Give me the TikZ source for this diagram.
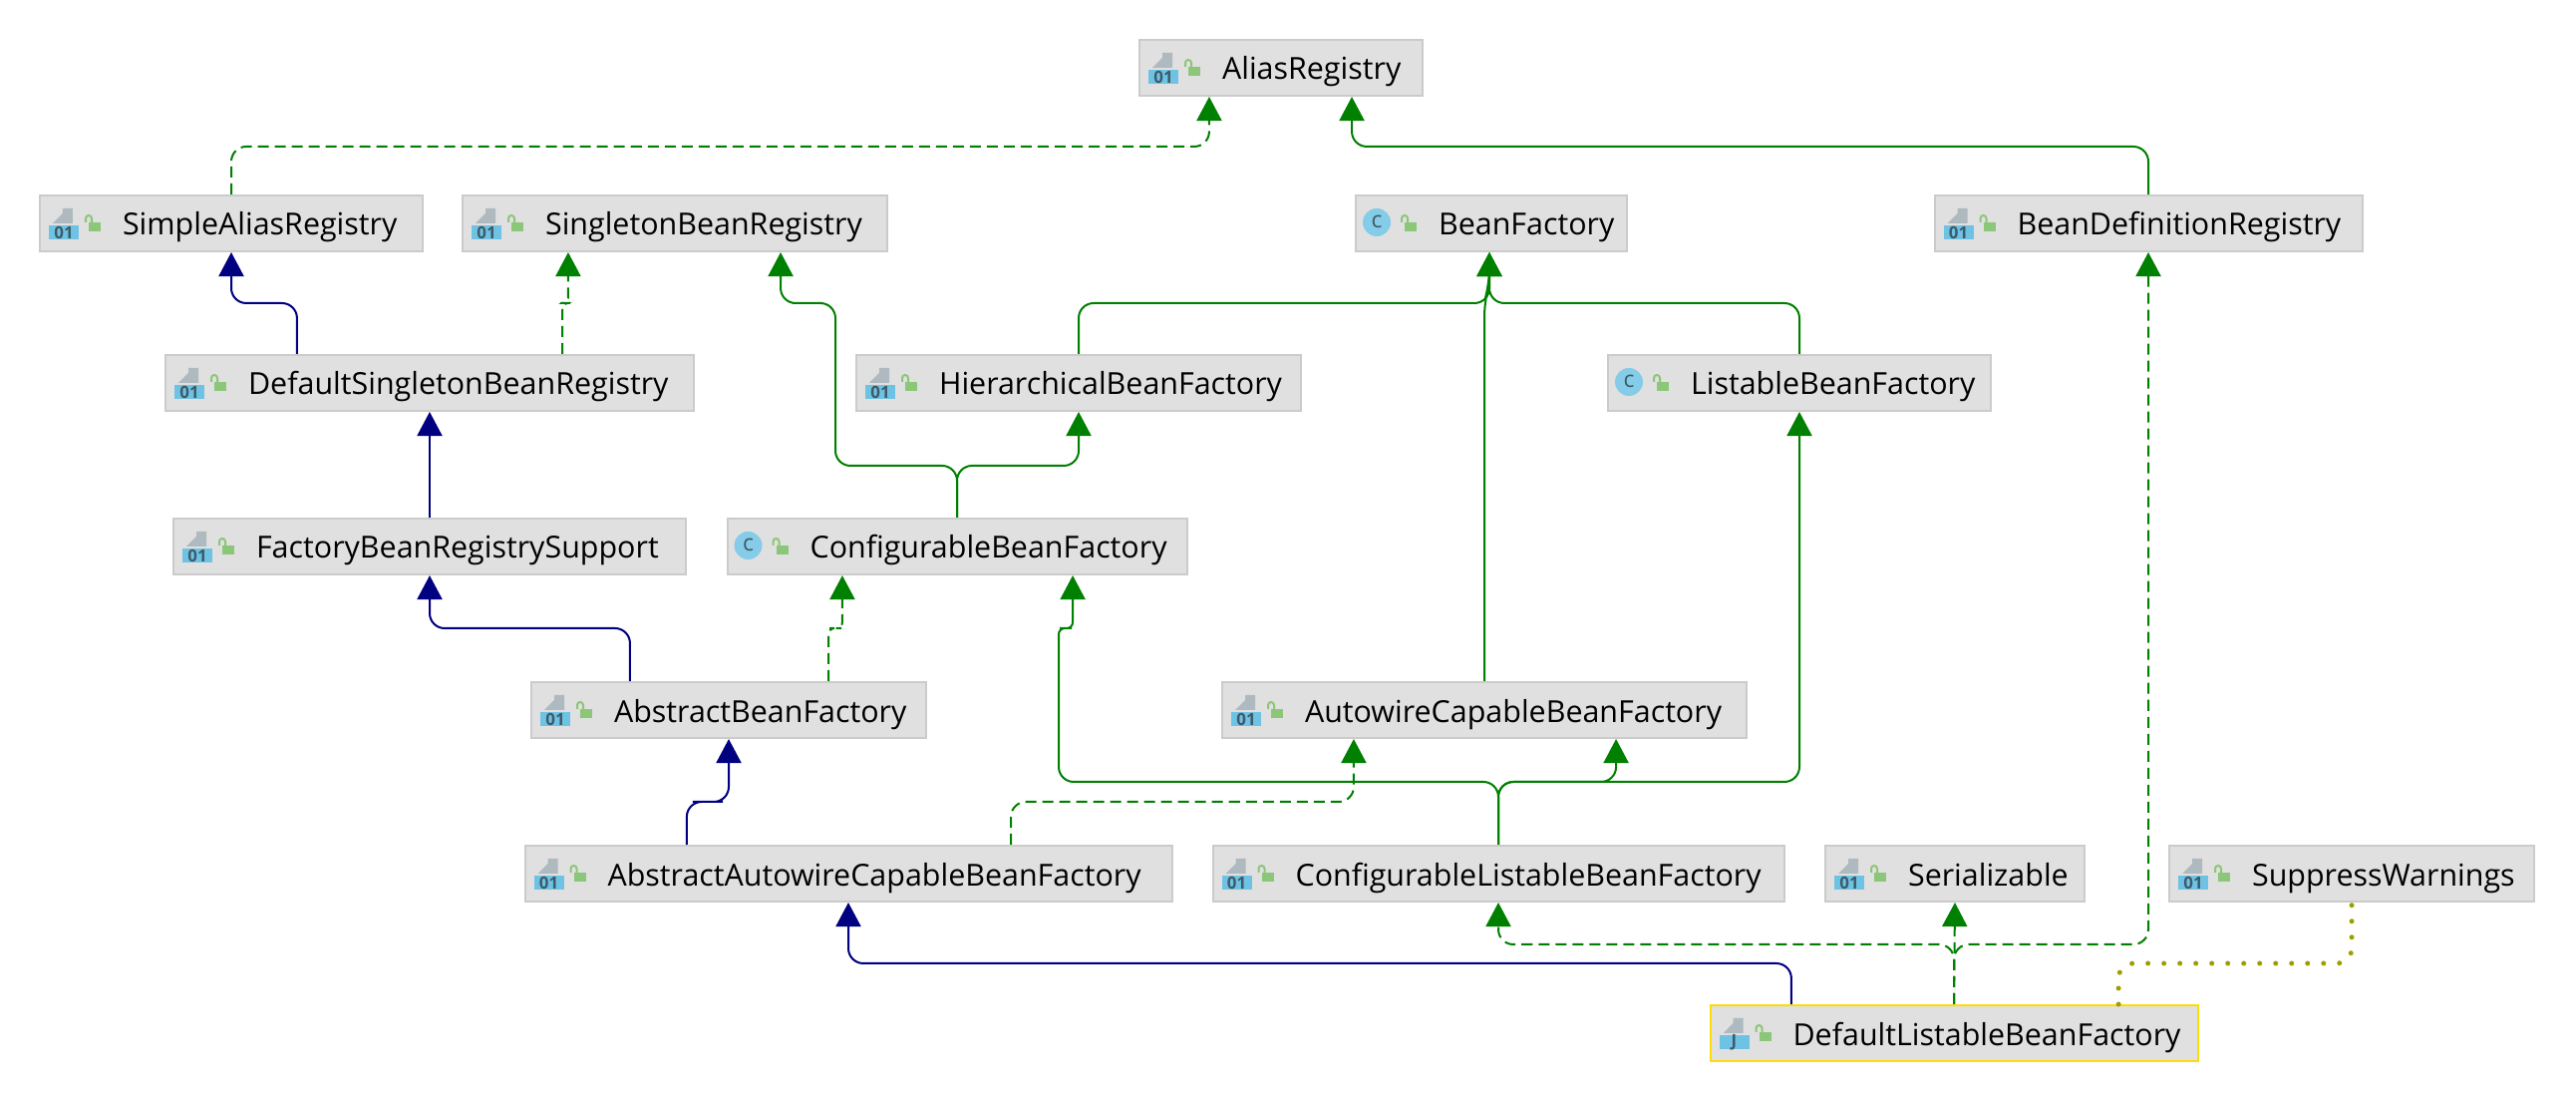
\documentclass[tikz,border=0pt]{standalone}
\usepackage{fontspec}
\setmainfont{Open Sans}
\usetikzlibrary{arrows.meta}
\definecolor{boxfill}{HTML}{E0E0E0}
\definecolor{boxline}{HTML}{CBCBCB}
\definecolor{implgreen}{HTML}{008000}
\definecolor{extblue}{HTML}{000080}
\definecolor{noteolive}{HTML}{9E9E00}
\definecolor{pagegray}{HTML}{AEB9C0}
\definecolor{iconblue}{HTML}{6EC3E4}
\definecolor{icontext}{HTML}{3F5A68}
\definecolor{lockgreen}{HTML}{8CC678}
\tikzset{
  beanbox/.style={
    rectangle, minimum width=#1*0.01cm, minimum height=0.56cm,
    text width=#1*0.01cm, inner xsep=0pt, inner ysep=0pt, align=left,
    text height=0.32cm, text depth=0.08cm,
    font=\fontsize{8.65}{11}\selectfont,
    execute at begin node={\hspace*{0.83cm}},
    draw=boxline, fill=boxfill, line width=0.02cm
  },
  extarrow/.style={-{Triangle[length=0.24cm,width=0.25cm]}, rounded corners=0.15cm,
    line width=0.02cm, draw=extblue},
  implarrow/.style={-{Triangle[length=0.24cm,width=0.25cm]}, rounded corners=0.15cm,
    line width=0.02cm, draw=implgreen},
  impldash/.style={implarrow, dash pattern=on 0.11cm off 0.06cm},
  notedots/.style={rounded corners=0.15cm, line width=0.05cm, draw=noteolive,
    line cap=round, dash pattern=on 0pt off 0.16cm},
  iconlabel/.style={inner sep=0pt, text=icontext, font=\fontsize{4.8}{5}\selectfont\bfseries},
  lockmark/.pic={
    \fill[lockgreen] (50,-1) rectangle (62,8);
    \draw[lockgreen, line width=0.02cm] (47,-1) -- (47,-5) arc (180:360:3) -- (53,-1);
  },
  filemark/.pic={
    \fill[pagegray] (24,-15) -- (34,-15) -- (34,0) -- (14,0) -- (24,-10) -- cycle;
    \fill[iconblue] (10,2) rectangle (40,16);
    \node[iconlabel] (-label) at (25,9) {#1};
    \pic {lockmark};
  },
  circlemark/.pic={
    \fill[iconblue!85!white] (22,-1) circle (14);
    \node[iconlabel] (-label) at (22,-2) {\fontsize{6.5}{7}\selectfont\mdseries c};
    \pic {lockmark};
  },
}
\begin{document}
\begin{tikzpicture}[x=0.01cm, y=-0.01cm]
    \useasboundingbox (0,0) rectangle (2584,1104);

    \node[beanbox=284] (alias)     at (1285,  68) {AliasRegistry};
    \node[beanbox=384] (simple)    at ( 232, 224) {SimpleAliasRegistry};
    \node[beanbox=426] (singleton) at ( 677, 224) {SingletonBeanRegistry};
    \node[beanbox=272] (bean)      at (1496, 224) {BeanFactory};
    \node[beanbox=429] (defreg)    at (2155, 224) {BeanDefinitionRegistry};
    \node[beanbox=530] (defsingle) at ( 431, 384) {DefaultSingletonBeanRegistry};
    \node[beanbox=446] (hier)      at (1082, 384) {HierarchicalBeanFactory};
    \node[beanbox=384] (listable)  at (1805, 384) {ListableBeanFactory};
    \node[beanbox=514] (factory)   at ( 431, 548) {FactoryBeanRegistrySupport};
    \node[beanbox=461] (config)    at ( 960, 548) {ConfigurableBeanFactory};
    \node[beanbox=396] (abstract)  at ( 731, 712) {AbstractBeanFactory};
    \node[beanbox=526] (autowire)  at (1489, 712) {AutowireCapableBeanFactory};
    \node[beanbox=649] (absauto)   at ( 851, 876) {AbstractAutowireCapableBeanFactory};
    \node[beanbox=573] (conflist)  at (1503, 876) {ConfigurableListableBeanFactory};
    \node[beanbox=260] (serial)    at (1961, 876) {Serializable};
    \node[beanbox=366] (suppress)  at (2359, 876) {SuppressWarnings};
    \node[beanbox=489, draw=yellow!80!orange] (deflist) at (1960,1036) {DefaultListableBeanFactory};

    \foreach \n in {alias, simple, singleton, defreg, defsingle, hier, factory,
                    abstract, autowire, absauto, conflist, serial, suppress}
      \pic (\n mark) at (\n.west) {filemark=01};
    \foreach \n in {bean, listable, config}
      \pic (\n mark) at (\n.west) {circlemark};
    \pic (deflist mark) at (deflist.west) {filemark=J};

    \draw[impldash]  (simple.north) |- (700,147) -| ([xshift=-0.72cm]alias.south);
    \draw[implarrow] (defreg.north) |- (1800,147) -| ([xshift=0.71cm]alias.south);

    \draw[extarrow]  ([xshift=-1.33cm]defsingle.north) |- (260,304) -| (simple.south);
    \draw[impldash, rounded corners=0.05cm] ([xshift=1.33cm]defsingle.north) |- (567,304) -| ([xshift=-1.07cm]singleton.south);
    \draw[extarrow]  (factory.north) -- (defsingle.south);

    \draw[implarrow] (config.north) |- (900,467) -| (838,400) |- (810,304) -| ([xshift=1.06cm]singleton.south);
    \draw[implarrow] (config.north) |- (1020,467) -| (hier.south);
    \draw[implarrow] (hier.north) |- (1300,304) -| ([xshift=-0.02cm]bean.south);
    \draw[implarrow] (listable.north) |- (1650,304) -| ([xshift=-0.02cm]bean.south);
    \draw[implarrow] (autowire.north) -- (1489,302) -- (1494,284) -- ([xshift=-0.02cm]bean.south);

    \draw[extarrow]  ([xshift=-0.99cm]abstract.north) |- (500,630) -| (factory.south);
    \draw[impldash, rounded corners=0.06cm] ([xshift=1cm]abstract.north) |- (838,630) -| ([xshift=-1.15cm]config.south);

    \draw[implarrow] (conflist.north) |- (1300,784) -| (1062,700) [rounded corners=0.06cm] |- (1069,630) -| ([xshift=1.16cm]config.south);
    \draw[implarrow] (conflist.north) |- (1560,784) -| ([xshift=1.32cm]autowire.south);
    \draw[implarrow] (conflist.north) |- (1700,784) -| (listable.south);

    \draw[extarrow]  ([xshift=-1.62cm]absauto.north) |- (710,804) -| (abstract.south);
    \draw[impldash]  ([xshift=1.63cm]absauto.north) |- (1200,804) -| ([xshift=-1.31cm]autowire.south);

    \draw[extarrow]  ([xshift=-1.63cm]deflist.north) |- (1300,966) -| (absauto.south);
    \draw[impldash]  (deflist.north) -- (serial.south);
    \draw[impldash]  (deflist.north) |- (1700,947) -| (conflist.south);
    \draw[impldash]  (deflist.north) |- (2050,947) -| (defreg.south);
    \draw[notedots]  ([xshift=1.65cm]deflist.north) |- (2250,966) -| (suppress.south);
  \end{tikzpicture}
\end{document}
